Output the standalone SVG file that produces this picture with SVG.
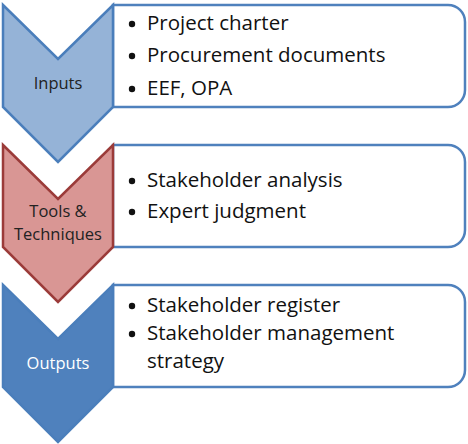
<svg xmlns="http://www.w3.org/2000/svg" width="468" height="444" viewBox="0 0 468 444">
<style>
.box{fill:#fff;stroke:#4f81bd;stroke-width:2.5}
.t{font-family:"Open Sans","DejaVu Sans",sans-serif;font-size:20.5px;fill:#111}
.lbl{font-family:"Open Sans","DejaVu Sans",sans-serif;font-size:16.5px;fill:#222;text-anchor:middle}
.dot{fill:#111}
</style>
<defs>
<path id="chev" d="M0,0 L55,54 L110,0 L110,102 L55,157 L0,102 Z"/>
<path id="bx" d="M113,0 H448 A17,17 0 0 1 465,17 V85 A17,17 0 0 1 448,102 H113 Z"/>
</defs>
<g id="inputs">
<use href="#bx" y="5" class="box"/>
<use href="#chev" x="3" y="5" fill="#95b3d7" stroke="#4a7ebb" stroke-width="2.5"/>
<text class="lbl" x="58" y="89">Inputs</text>
<circle class="dot" cx="132" cy="24" r="3.2"/><text class="t" x="147" y="30">Project charter</text>
<circle class="dot" cx="132" cy="56" r="3.2"/><text class="t" x="147" y="62">Procurement documents</text>
<circle class="dot" cx="132" cy="89" r="3.2"/><text class="t" x="147" y="95">EEF, OPA</text>
</g>
<g id="tools">
<use href="#bx" y="145" class="box"/>
<use href="#chev" x="3" y="145" fill="#d99694" stroke="#9b3b39" stroke-width="2.5"/>
<text class="lbl" x="58" y="217">Tools &amp;</text>
<text class="lbl" x="58" y="240">Techniques</text>
<circle class="dot" cx="132" cy="181" r="3.2"/><text class="t" x="147" y="187">Stakeholder analysis</text>
<circle class="dot" cx="132" cy="212" r="3.2"/><text class="t" x="147" y="218">Expert judgment</text>
</g>
<g id="outputs">
<use href="#bx" y="285" class="box"/>
<use href="#chev" x="3" y="285" fill="#4f81bd" stroke="#4a7ebb" stroke-width="2.5"/>
<text class="lbl" x="58" y="369" style="fill:#fff">Outputs</text>
<circle class="dot" cx="132" cy="306" r="3.2"/><text class="t" x="147" y="312">Stakeholder register</text>
<circle class="dot" cx="132" cy="334" r="3.2"/><text class="t" x="147" y="340">Stakeholder management</text>
<text class="t" x="147" y="368">strategy</text>
</g>
<g id="connectors"></g>
</svg>
